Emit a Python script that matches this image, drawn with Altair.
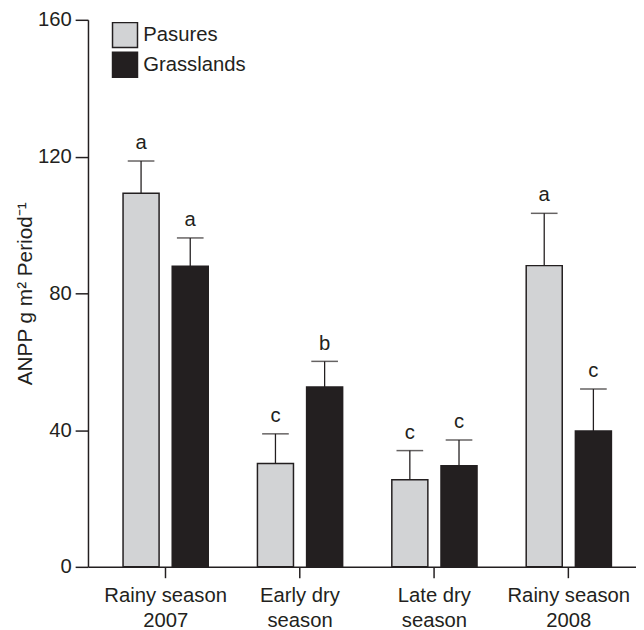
import altair as alt
import pandas as pd

periods = ["Rainy season|2007", "Early dry|season", "Late dry|season", "Rainy season|2008"]
series = ["Pasures", "Grasslands"]

pasures_mean = [109.3, 30.2, 25.5, 88.1]
pasures_se = [9.4, 8.7, 8.5, 15.3]
pasures_letter = ["a", "c", "c", "a"]

grass_mean = [87.9, 52.6, 29.6, 39.7]
grass_se = [8.3, 7.5, 7.5, 12.3]
grass_letter = ["a", "b", "c", "c"]

rows = []
for i, p in enumerate(periods):
    rows.append({"Period": p, "Series": "Pasures", "value": pasures_mean[i],
                 "err": pasures_se[i], "letter": pasures_letter[i]})
    rows.append({"Period": p, "Series": "Grasslands", "value": grass_mean[i],
                 "err": grass_se[i], "letter": grass_letter[i]})
df = pd.DataFrame(rows)
df["top"] = df["value"] + df["err"]

INK = "#231f20"
FONT = "Liberation Sans"

x = alt.X("Period:N", sort=periods, title=None,
          scale=alt.Scale(paddingInner=0, paddingOuter=0.039, align=1),
          axis=alt.Axis(labelExpr="split(datum.label, '|')", labelAngle=0,
                        labelFontSize=20.5, labelLineHeight=25, labelColor=INK,
                        labelFont=FONT, tickSize=11, tickColor=INK, tickWidth=1.5,
                        domainColor=INK, domainWidth=1.5, labelPadding=8))
xo = alt.XOffset("Series:N", sort=series,
                 scale=alt.Scale(paddingInner=0.267, paddingOuter=0.5))
y = alt.Y("value:Q", title="ANPP g m² Period⁻¹",
          scale=alt.Scale(domain=[0, 160], nice=False, zero=True),
          axis=alt.Axis(values=[0, 40, 80, 120, 160], grid=False,
                        labelFontSize=20.5, labelColor=INK, labelFont=FONT,
                        tickSize=13, tickColor=INK, tickWidth=1.5,
                        domainColor=INK, domainWidth=1.5, labelPadding=4,
                        titleFontSize=21, titleFont=FONT, titleColor=INK,
                        titleFontWeight="normal", titlePadding=2))

color = alt.Color("Series:N", sort=series,
                  scale=alt.Scale(domain=series, range=["#d2d3d5", INK]),
                  legend=alt.Legend(title=None, orient="none", legendX=24, legendY=2,
                                    symbolType="square", symbolSize=640,
                                    symbolStrokeColor=INK, symbolStrokeWidth=1.5,
                                    labelFontSize=20.5, labelFont=FONT, labelColor=INK,
                                    labelOffset=5, rowPadding=-3, padding=0))

base = alt.Chart(df)

bars = base.mark_bar(stroke=INK, strokeWidth=1.5).encode(x=x, xOffset=xo, y=y, color=color)
rules = base.mark_rule(color=INK, strokeWidth=1.3).encode(
    x=alt.X("Period:N", sort=periods), xOffset=xo,
    y=alt.Y("value:Q"), y2="top:Q")
caps = base.mark_tick(color=INK, thickness=1.5, size=27, orient="horizontal").encode(
    x=alt.X("Period:N", sort=periods), xOffset=xo, y=alt.Y("top:Q"))
letters = base.mark_text(color=INK, font=FONT, fontSize=20.5, dy=-12,
                         baseline="alphabetic").encode(
    x=alt.X("Period:N", sort=periods), xOffset=xo, y=alt.Y("top:Q"), text="letter:N")

chart = alt.layer(bars, rules, caps, letters).properties(
    width=555, height=554,
    autosize=alt.AutoSizeParams(type="none"),
    padding={"left": 81, "top": 8, "right": 0, "bottom": 60},
).configure_view(stroke=None)

chart.save("out.html", embed_options={"renderer": "svg", "actions": False})
